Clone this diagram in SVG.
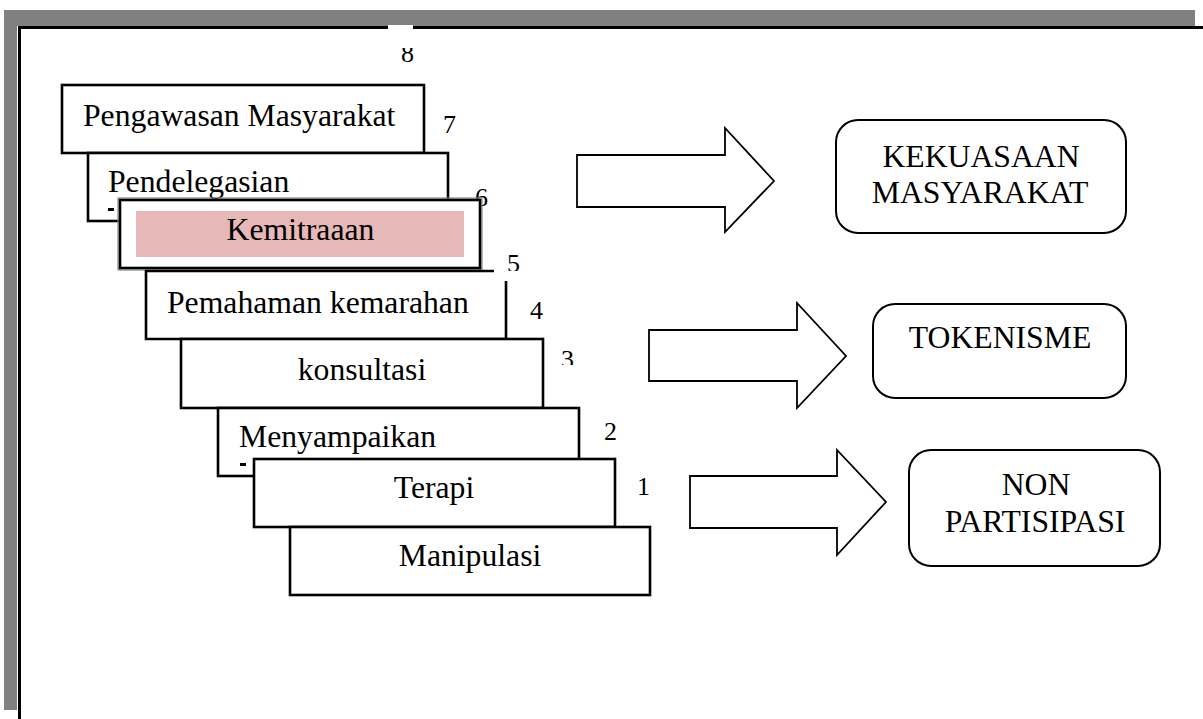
<svg xmlns="http://www.w3.org/2000/svg" width="1203" height="719" viewBox="0 0 1203 719">
<defs>
<style>
.box{fill:#fff;stroke:#000;stroke-width:2.6}
.rbox{fill:#fff;stroke:#000;stroke-width:2}
.arr{fill:#fff;stroke:#000;stroke-width:1.8;stroke-linejoin:miter}
.t{font-family:"Liberation Serif","Times New Roman",serif;font-size:31.7px;fill:#000}
.n{font-family:"Liberation Serif","Times New Roman",serif;font-size:26px;fill:#000}
.m{text-anchor:middle}
</style>
<clipPath id="c8"><rect x="390" y="48" width="40" height="30"/></clipPath>
<clipPath id="c5"><rect x="495" y="240" width="40" height="31"/></clipPath>
<clipPath id="c3"><rect x="550" y="340" width="40" height="25"/></clipPath>
</defs>
<rect x="0" y="0" width="1203" height="719" fill="#fff"/>
<g id="frame">
<rect x="4" y="10" width="1191" height="16" fill="#808080"/>
<rect x="4" y="10" width="13" height="700" fill="#808080"/>
<rect x="18" y="26" width="1185" height="3" fill="#000"/>
<rect x="18" y="26" width="3" height="693" fill="#000"/>
<rect x="388" y="25" width="25" height="4" fill="#fff"/>
</g>
<g id="label-8"><text class="n" x="401" y="62" clip-path="url(#c8)">8</text></g>
<g id="node-7">
<rect class="box" x="62" y="85" width="362" height="68"/>
<text class="t" x="83" y="126">Pengawasan Masyarakat</text>
</g>
<g id="label-7"><text class="n" x="443" y="133">7</text></g>
<g id="node-6">
<rect class="box" x="88" y="153" width="360" height="68"/>
<text class="t" x="108" y="192">Pendelegasian</text>
<rect x="108" y="208" width="6" height="3" fill="#000"/>
</g>
<g id="label-6"><text class="n" x="475" y="206">6</text></g>
<g id="node-5">
<rect x="118" y="198" width="364" height="72" fill="none" stroke="#888" stroke-width="1.2"/>
<rect class="box" x="120" y="200" width="360" height="68" stroke-width="3"/>
<rect x="136" y="211" width="328" height="46" fill="#e6b8b7"/>
<text class="t m" x="300.5" y="240">Kemitraaan</text>
</g>
<g id="node-4">
<rect x="146" y="271" width="360" height="68" fill="#fff"/>
<path d="M494 271 H146 V339 H506 V281" fill="none" stroke="#000" stroke-width="2.6"/>
<text class="t" x="167" y="313">Pemahaman kemarahan</text>
</g>
<g id="label-5"><text class="n" x="507" y="272" clip-path="url(#c5)">5</text></g>
<g id="label-4"><text class="n" x="530" y="319">4</text></g>
<g id="node-3">
<rect class="box" x="181" y="339" width="362" height="69"/>
<text class="t m" x="362" y="380">konsultasi</text>
</g>
<g id="label-3"><text class="n" x="561" y="368" clip-path="url(#c3)">3</text></g>
<g id="node-2">
<rect class="box" x="218" y="408" width="361" height="68"/>
<text class="t" x="239" y="447">Menyampaikan</text>
<rect x="240" y="463" width="6" height="3" fill="#000"/>
</g>
<g id="label-2"><text class="n" x="604" y="440">2</text></g>
<g id="node-1">
<rect class="box" x="254" y="459" width="361" height="68"/>
<text class="t m" x="434" y="498">Terapi</text>
</g>
<g id="label-1"><text class="n" x="637" y="495">1</text></g>
<g id="node-0">
<rect class="box" x="290" y="527" width="360" height="68"/>
<text class="t m" x="470" y="566">Manipulasi</text>
</g>
<g id="connectors">
<polygon class="arr" points="577,155 725,155 725,128 774,181 725,232 725,207 577,207"/>
<polygon class="arr" points="649,330 797,330 797,303 846,356 797,408 797,381 649,381"/>
<polygon class="arr" points="690,476 837,476 837,450 886,502 837,555 837,528 690,528"/>
</g>
<g id="kekuasaan">
<rect class="rbox" x="836" y="120" width="290" height="113" rx="22"/>
<text class="t m" x="981" y="167">KEKUASAAN</text>
<text class="t m" x="980" y="203">MASYARAKAT</text>
</g>
<g id="tokenisme">
<rect class="rbox" x="873" y="304" width="253" height="94" rx="22"/>
<text class="t m" x="1000" y="348">TOKENISME</text>
</g>
<g id="non-partisipasi">
<rect class="rbox" x="909" y="450" width="251" height="116" rx="22"/>
<text class="t m" x="1036" y="495">NON</text>
<text class="t m" x="1035" y="532">PARTISIPASI</text>
</g>
</svg>
